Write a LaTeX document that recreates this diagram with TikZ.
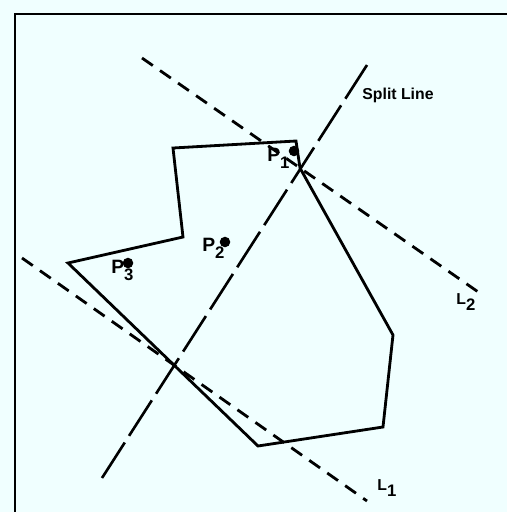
\documentclass[tikz,border=0pt]{standalone}
\usepackage{fontspec}
\setmainfont{Liberation Sans}
\usepackage{xcolor}
\usepackage{tikz}
\usetikzlibrary{positioning}
\definecolor{paperbg}{RGB}{240,255,255}
\newcommand{\lowsub}[1]{\raisebox{-0.75ex}{\fontsize{9.5}{10}\selectfont #1}}

\begin{document}
\begin{tikzpicture}[
  x=0.02cm, y=-0.02cm,
  edge/.style={line width=1.6pt, line join=miter},
  cutline/.style={line width=1.5pt, dash pattern=on 24pt off 4.5pt},
  bound/.style={line width=1.6pt, dash pattern=on 7.5pt off 5pt},
  frame/.style={line width=1.2pt},
  pdot/.style={circle, fill=black, inner sep=0pt, minimum size=6pt},
  plabel/.style={font=\fontsize{11}{12}\selectfont\bfseries, inner sep=0pt, anchor=base west},
  tag/.style={font=\fontsize{9}{10}\selectfont\bfseries, inner sep=0pt}
]

% Background and frame
\fill[paperbg] (0,0) rectangle (507,512);
\useasboundingbox (0,0) rectangle (507,512);
\draw[frame] (15,512) -- (15,14) -- (507,14);

% Polygon vertices
\coordinate (v1) at (173,148);
\coordinate (v2) at (296,141);
\coordinate (v3) at (300,168);
\coordinate (v4) at (393,335);
\coordinate (v5) at (383,427);
\coordinate (v6) at (258,446);
\coordinate (v7) at (68,263);
\coordinate (v8) at (183,237);
\draw[edge] (v1) -- (v2) -- (v3) -- (v4) -- (v5) -- (v6) -- (v7) -- (v8) -- cycle;

% Lines
\coordinate (sa) at (102,478);
\coordinate (sb) at (367,65);
\draw[cutline] (sa) -- (sb);
\coordinate (l1a) at (22,258);
\coordinate (l1b) at (367,501);
\draw[bound] (l1a) -- (l1b);
\coordinate (l2a) at (142,58);
\coordinate (l2b) at (484,296);
\draw[bound] (l2a) -- (l2b);

% Points
\node[pdot] (p1) at (294,151) {};
\node[pdot] (p2) at (225,242) {};
\node[pdot] (p3) at (128,263) {};
\node[plabel] (p1lab) at (267,161) {P\lowsub{1}};
\node[plabel] (p2lab) at (202,251) {P\lowsub{2}};
\node[plabel] (p3lab) at (111,273) {P\lowsub{3}};

% Labels
\node[tag] (split) at (398,95) {Split Line};
\node[tag, anchor=base west] (l2lab) at (456,304) {L\lowsub{2}};
\node[tag, anchor=base west] (l1lab) at (377,490) {L\lowsub{1}};

\end{tikzpicture}
\end{document}
